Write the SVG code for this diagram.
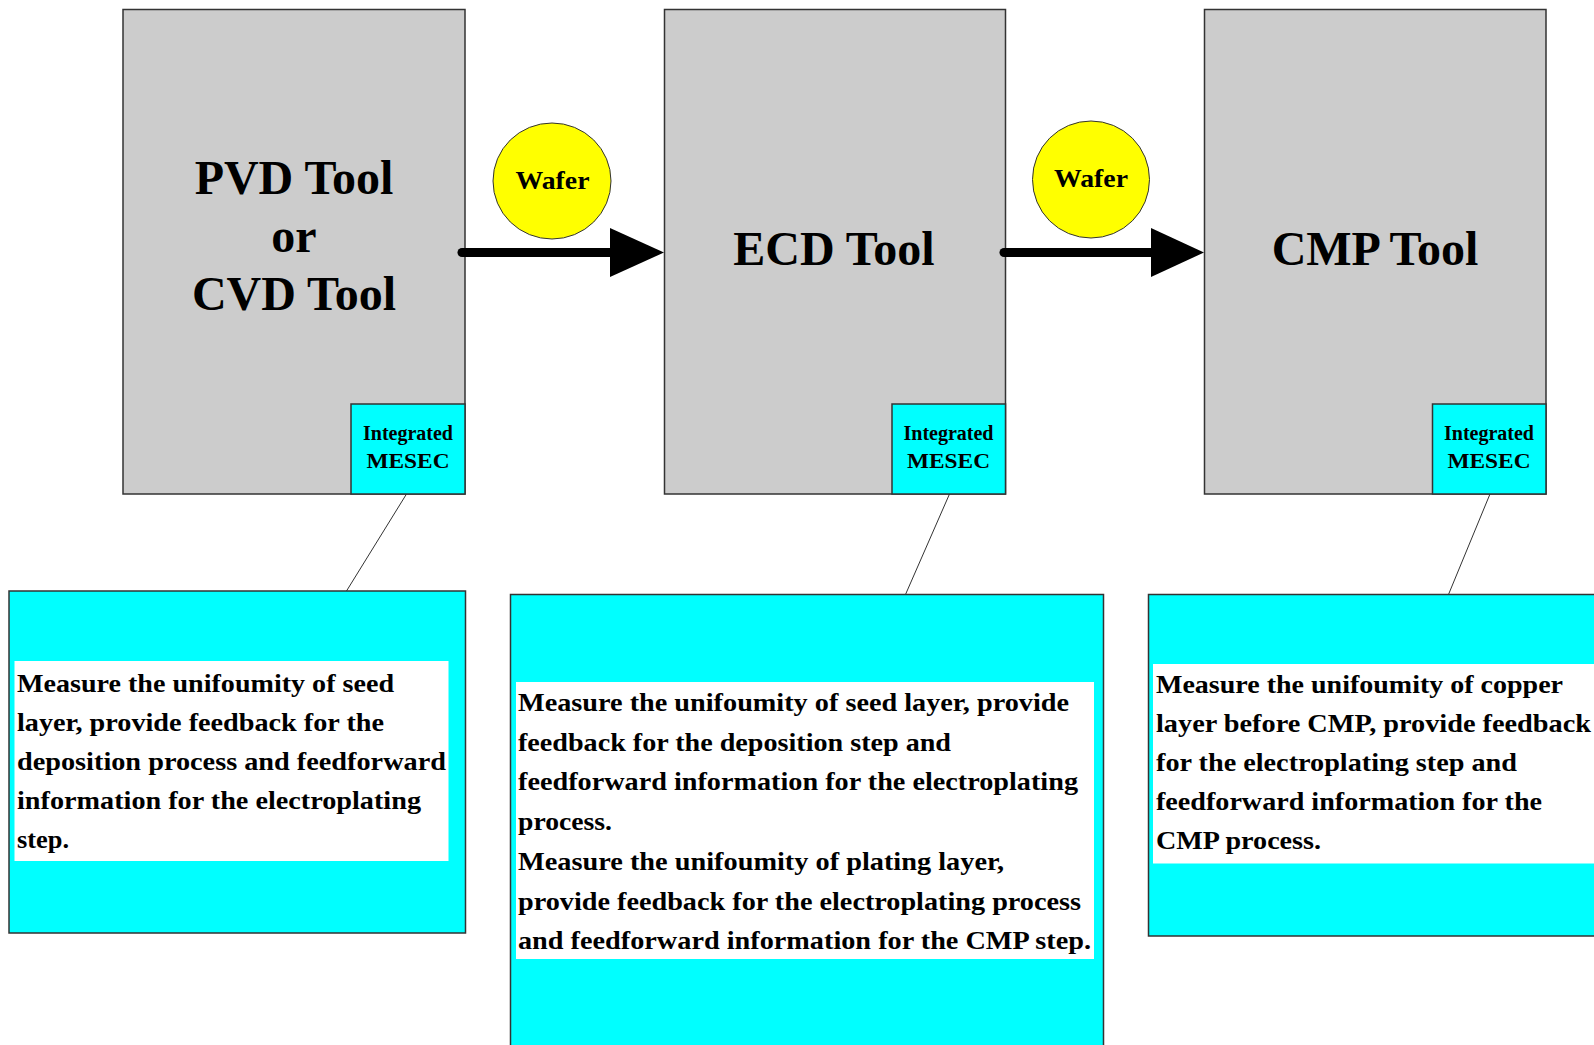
<svg xmlns="http://www.w3.org/2000/svg" width="1594" height="1045" viewBox="0 0 1594 1045">
<style>
.tool{fill:#cccccc;stroke:#333333;stroke-width:1.5}
.mesec{fill:#00ffff;stroke:#333333;stroke-width:1.5}
.note{fill:#00ffff;stroke:#333333;stroke-width:1.5}
.inner{fill:#ffffff;stroke:none}
.wafer{fill:#ffff00;stroke:#333333;stroke-width:1}
.t{font-family:"Liberation Serif","Times New Roman",serif;font-weight:bold;fill:#000000}
.big{font-size:48px;text-anchor:middle}
.small{font-size:20px;text-anchor:middle}
.wtxt{font-size:26px;text-anchor:middle}
.body{font-size:25px}
.lead{stroke:#333333;stroke-width:1;fill:none}
.flow{stroke:#000000;stroke-width:9;stroke-linecap:round;fill:none}
</style>
<rect width="1594" height="1045" fill="#ffffff"/>

<g id="pvd-tool">
<rect class="tool" x="123" y="9.5" width="342" height="484.5"/>
<text class="t big" x="294" y="194">PVD Tool</text>
<text class="t big" x="294" y="252">or</text>
<text class="t big" x="294" y="310">CVD Tool</text>
</g>
<g id="pvd-mesec">
<rect class="mesec" x="351" y="404" width="114" height="90"/>
<text class="t small" x="408" y="439.5" textLength="90" lengthAdjust="spacingAndGlyphs">Integrated</text>
<text class="t small" x="408" y="468" font-size="22" textLength="83" lengthAdjust="spacingAndGlyphs">MESEC</text>
</g>

<g id="ecd-tool">
<rect class="tool" x="664.5" y="9.5" width="341" height="484.5"/>
<text class="t big" x="834" y="265">ECD Tool</text>
</g>
<g id="ecd-mesec">
<rect class="mesec" x="892" y="404" width="113.5" height="90"/>
<text class="t small" x="948.5" y="439.5" textLength="90" lengthAdjust="spacingAndGlyphs">Integrated</text>
<text class="t small" x="948.5" y="468" font-size="22" textLength="83" lengthAdjust="spacingAndGlyphs">MESEC</text>
</g>

<g id="cmp-tool">
<rect class="tool" x="1204.5" y="9.5" width="341.5" height="484.5"/>
<text class="t big" x="1375" y="265">CMP Tool</text>
</g>
<g id="cmp-mesec">
<rect class="mesec" x="1432.5" y="404" width="113.5" height="90"/>
<text class="t small" x="1489" y="439.5" textLength="90" lengthAdjust="spacingAndGlyphs">Integrated</text>
<text class="t small" x="1489" y="468" font-size="22" textLength="83" lengthAdjust="spacingAndGlyphs">MESEC</text>
</g>

<g id="wafer-1">
<ellipse class="wafer" cx="552" cy="181" rx="59" ry="58"/>
<text class="t wtxt" x="552.5" y="189" textLength="74" lengthAdjust="spacingAndGlyphs">Wafer</text>
</g>
<g id="wafer-2">
<ellipse class="wafer" cx="1091" cy="179.5" rx="58.5" ry="58.5"/>
<text class="t wtxt" x="1091" y="187" textLength="74" lengthAdjust="spacingAndGlyphs">Wafer</text>
</g>

<g id="note-pvd">
<rect class="note" x="9" y="591" width="456.5" height="342"/>
<rect class="inner" x="14.5" y="661" width="434" height="200"/>
<text class="t body" x="17" y="692" textLength="377" lengthAdjust="spacingAndGlyphs">Measure the unifoumity of seed</text>
<text class="t body" x="17" y="731" textLength="367" lengthAdjust="spacingAndGlyphs">layer, provide feedback for the</text>
<text class="t body" x="17" y="770" textLength="429" lengthAdjust="spacingAndGlyphs">deposition process and feedforward</text>
<text class="t body" x="17" y="809" textLength="404" lengthAdjust="spacingAndGlyphs">information for the electroplating</text>
<text class="t body" x="17" y="848" textLength="52" lengthAdjust="spacingAndGlyphs">step.</text>
</g>

<g id="note-ecd">
<rect class="note" x="510.5" y="594.5" width="593" height="460"/>
<rect class="inner" x="516" y="682" width="578" height="277"/>
<text class="t body" x="518" y="711" textLength="551" lengthAdjust="spacingAndGlyphs">Measure the unifoumity of seed layer, provide</text>
<text class="t body" x="518" y="750.5" textLength="433" lengthAdjust="spacingAndGlyphs">feedback for the deposition step and</text>
<text class="t body" x="518" y="790" textLength="560" lengthAdjust="spacingAndGlyphs">feedforward information for the electroplating</text>
<text class="t body" x="518" y="830" textLength="94" lengthAdjust="spacingAndGlyphs">process.</text>
<text class="t body" x="518" y="870" textLength="486" lengthAdjust="spacingAndGlyphs">Measure the unifoumity of plating layer,</text>
<text class="t body" x="518" y="909.5" textLength="563" lengthAdjust="spacingAndGlyphs">provide feedback for the electroplating process</text>
<text class="t body" x="518" y="949" textLength="573" lengthAdjust="spacingAndGlyphs">and feedforward information for the CMP step.</text>
</g>

<g id="note-cmp">
<rect class="note" x="1148.5" y="594.5" width="460" height="341.5"/>
<rect class="inner" x="1153" y="664" width="445" height="199.5"/>
<text class="t body" x="1156" y="693" textLength="407" lengthAdjust="spacingAndGlyphs">Measure the unifoumity of copper</text>
<text class="t body" x="1156" y="732" textLength="435" lengthAdjust="spacingAndGlyphs">layer before CMP, provide feedback</text>
<text class="t body" x="1156" y="771" textLength="361" lengthAdjust="spacingAndGlyphs">for the electroplating step and</text>
<text class="t body" x="1156" y="810" textLength="386" lengthAdjust="spacingAndGlyphs">feedforward information for the</text>
<text class="t body" x="1156" y="849" textLength="165" lengthAdjust="spacingAndGlyphs">CMP process.</text>
</g>

<g id="connectors">
<line class="flow" x1="462" y1="252.5" x2="612" y2="252.5"/>
<polygon points="610,228 664,252.5 610,277" fill="#000000"/>
<line class="flow" x1="1004" y1="252.5" x2="1153" y2="252.5"/>
<polygon points="1151,228 1204,252.5 1151,277" fill="#000000"/>
<line class="lead" x1="406.5" y1="494" x2="346.5" y2="591"/>
<line class="lead" x1="949.5" y1="494" x2="905.5" y2="594.5"/>
<line class="lead" x1="1490" y1="494" x2="1448.5" y2="594.5"/>
</g>
</svg>
